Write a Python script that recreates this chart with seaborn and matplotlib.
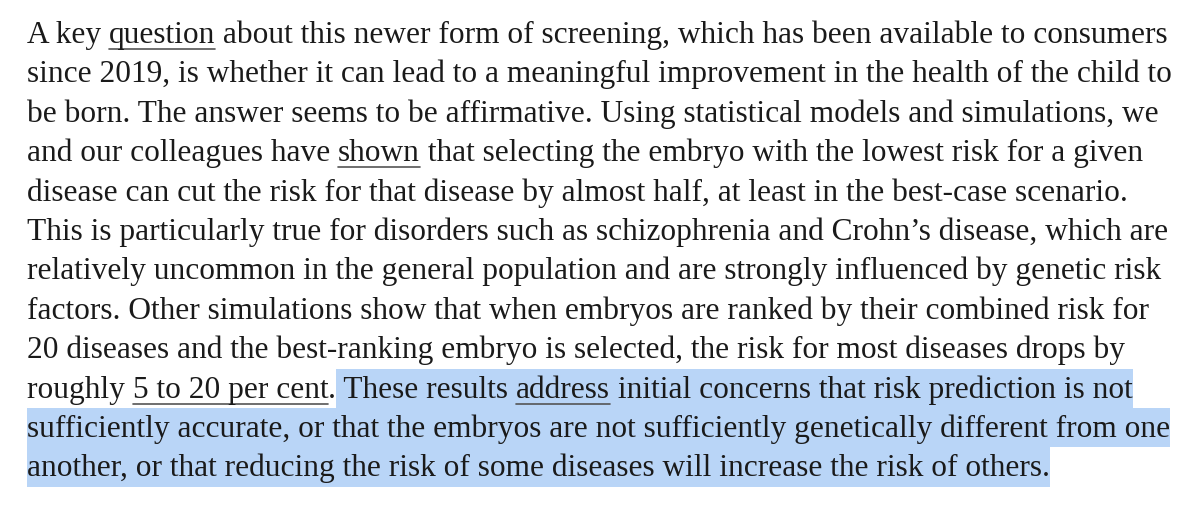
import matplotlib
matplotlib.use("Agg")
import matplotlib.pyplot as plt
import seaborn as sns

sns.set_theme(style="white")
plt.rcParams['font.family'] = ['Liberation Serif', 'DejaVu Serif']

# Each line: list of (text, underline, highlight)
lines = [
    [("A key ", 0, 0), ("question", 1, 0), (" about this newer form of screening, which has been available to consumers", 0, 0)],
    [("since 2019, is whether it can lead to a meaningful improvement in the health of the child to", 0, 0)],
    [("be born. The answer seems to be affirmative. Using statistical models and simulations, we", 0, 0)],
    [("and our colleagues have ", 0, 0), ("shown", 1, 0), (" that selecting the embryo with the lowest risk for a given", 0, 0)],
    [("disease can cut the risk for that disease by almost half, at least in the best-case scenario.", 0, 0)],
    [("This is particularly true for disorders such as schizophrenia and Crohn\u2019s disease, which are", 0, 0)],
    [("relatively uncommon in the general population and are strongly influenced by genetic risk", 0, 0)],
    [("factors. Other simulations show that when embryos are ranked by their combined risk for", 0, 0)],
    [("20 diseases and the best-ranking embryo is selected, the risk for most diseases drops by", 0, 0)],
    [("roughly ", 0, 0), ("5 to 20 per cent", 1, 0), (".", 0, 0), (" These results ", 0, 1), ("address", 1, 1), (" initial concerns that risk prediction is not", 0, 1)],
    [("sufficiently accurate, or that the embryos are not sufficiently genetically different from one", 0, 1)],
    [("another, or that reducing the risk of some diseases will increase the risk of others.", 0, 1)],
]

W, H = 1200, 527
fig = plt.figure(figsize=(12, 5.27), dpi=100)
ax = fig.add_axes([0, 0, 1, 1])
ax.set_xlim(0, W)
ax.set_ylim(H, 0)
ax.axis('off')
fig.canvas.draw()
r = fig.canvas.get_renderer()

def width(s, fs):
    t = ax.text(0, 0, s, fontsize=fs)
    bb = t.get_window_extent(renderer=r)
    t.remove()
    return bb.width

full1 = "".join(s for s, _, _ in lines[0])
fs = 20 * 1138 / width(full1, 20)

x0, base0, step = 27, 43, 39.4
for i, segs in enumerate(lines):
    y = base0 + i * step
    x = x0
    for s, ul, hl in segs:
        w = width(s, fs)
        if hl:
            ax.add_patch(plt.Rectangle((x, y - 29), w, 39.4, color='#b9d5f7', lw=0, zorder=0))
        ax.text(x, y, s, fontsize=fs, color='#1a1a1a', va='baseline', ha='left', zorder=2)
        if ul:
            ax.plot([x, x + w], [y + 6, y + 6], color='#555555', lw=1.2, zorder=1)
        x += w

fig.savefig("out.png", dpi=100, facecolor='white')
